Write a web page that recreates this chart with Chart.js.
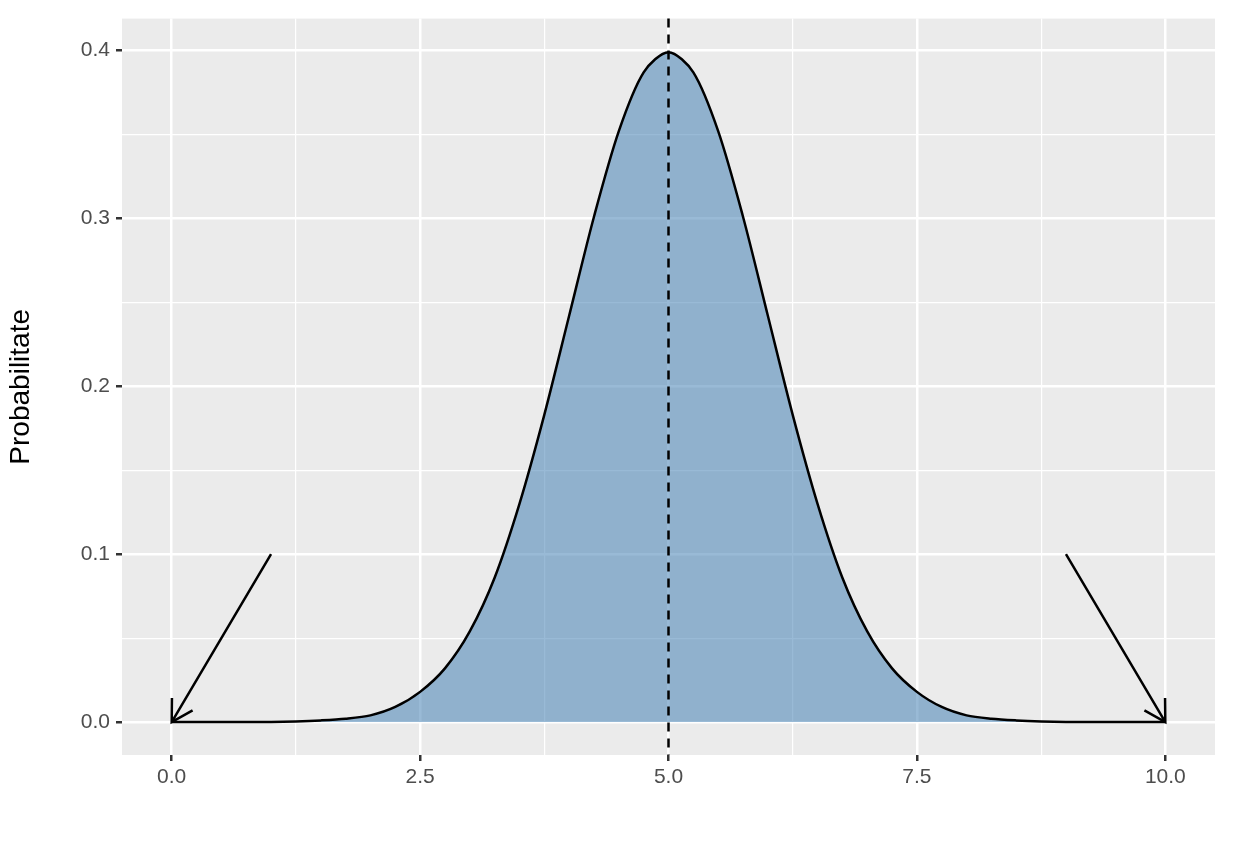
<!DOCTYPE html>
<html>
<head>
<meta charset="utf-8">
<script src="https://cdn.jsdelivr.net/npm/chart.js@4"></script>
<style>
  body { margin: 0; background: #fff; }
  #wrap { width: 1234px; height: 864px; }
</style>
</head>
<body>
<div id="wrap"><canvas id="c" width="1234" height="864"></canvas></div>
<script>
// x positions and density values
const xs = [0, 0.25, 0.5, 0.75, 1, 1.25, 1.5, 1.75, 2, 2.25, 2.5, 2.75, 3, 3.25, 3.5, 3.75, 4, 4.25, 4.5, 4.75,
  5, 5.25, 5.5, 5.75, 6, 6.25, 6.5, 6.75, 7, 7.25, 7.5, 7.75, 8, 8.25, 8.5, 8.75, 9, 9.25, 9.5, 9.75, 10];
const density = [0, 0, 0, 0, 0.0001, 0.0004, 0.001, 0.002, 0.004, 0.009, 0.018, 0.032, 0.054, 0.086, 0.130, 0.183, 0.242, 0.301, 0.352, 0.387,
  0.399, 0.387, 0.352, 0.301, 0.242, 0.183, 0.130, 0.086, 0.054, 0.032, 0.018, 0.009, 0.004, 0.002, 0.001, 0.0004, 0.0001, 0, 0, 0, 0];
const xLabels = [0, 2.5, 5, 7.5, 10];
const yLabels = [0, 0.1, 0.2, 0.3, 0.4];
const meanLine = 5;
// arrows: [fromX, fromY, toX, toY]
const arrows = [[1, 0.1, 0, 0], [9, 0.1, 10, 0]];

const isMajor = (v, list) => list.some(l => Math.abs(l - v) < 1e-6);

const panelPlugin = {
  id: 'panel',
  beforeDraw(chart) {
    const { ctx, chartArea: a } = chart;
    ctx.save();
    ctx.fillStyle = '#EBEBEB';
    ctx.fillRect(a.left, a.top, a.right - a.left, a.bottom - a.top);
    ctx.restore();
  },
  afterDatasetsDraw(chart) {
    const { ctx, chartArea: a, scales: { x, y } } = chart;
    ctx.save();
    ctx.strokeStyle = '#000';
    ctx.lineWidth = 2.5;
    ctx.setLineDash([9, 7]);
    const mx = x.getPixelForValue(meanLine);
    ctx.beginPath();
    ctx.moveTo(mx, a.top);
    ctx.lineTo(mx, a.bottom);
    ctx.stroke();
    ctx.setLineDash([]);
    arrows.forEach(([x0, y0, x1, y1]) => {
      const px0 = x.getPixelForValue(x0), py0 = y.getPixelForValue(y0);
      const px1 = x.getPixelForValue(x1), py1 = y.getPixelForValue(y1);
      const ang = Math.atan2(py1 - py0, px1 - px0);
      const h = 24;
      ctx.beginPath();
      ctx.moveTo(px0, py0);
      ctx.lineTo(px1, py1);
      ctx.moveTo(px1 - h * Math.cos(ang - Math.PI / 6), py1 - h * Math.sin(ang - Math.PI / 6));
      ctx.lineTo(px1, py1);
      ctx.lineTo(px1 - h * Math.cos(ang + Math.PI / 6), py1 - h * Math.sin(ang + Math.PI / 6));
      ctx.stroke();
    });
    ctx.restore();
  }
};

new Chart(document.getElementById('c').getContext('2d'), {
  type: 'line',
  data: {
    datasets: [{
      data: xs.map((v, i) => ({ x: v, y: density[i] })),
      borderColor: '#000',
      borderWidth: 2.5,
      backgroundColor: 'rgba(70,130,180,0.55)',
      fill: 'origin',
      pointRadius: 0,
      tension: 0.3
    }]
  },
  options: {
    responsive: false,
    animation: false,
    layout: { padding: { top: 18, right: 19, left: 0, bottom: 0 } },
    plugins: { legend: { display: false }, tooltip: { enabled: false } },
    scales: {
      x: {
        type: 'linear', min: -0.5, max: 10.5,
        afterBuildTicks(s) { s.ticks = [-1.25, 0, 1.25, 2.5, 3.75, 5, 6.25, 7.5, 8.75, 10].filter(v => v >= -0.5).map(v => ({ value: v })); },
        afterFit(s) { s.height = 109; },
        border: { display: false },
        grid: {
          color: '#fff',
          lineWidth: c => isMajor(c.tick.value, xLabels) ? 2.5 : 1.2,
          tickLength: 6,
          tickColor: c => isMajor(c.tick.value, xLabels) ? '#333' : 'rgba(0,0,0,0)'
        },
        ticks: {
          autoSkip: false, maxRotation: 0, padding: 4,
          color: '#4D4D4D', font: { family: 'Liberation Sans', size: 21 },
          callback: v => isMajor(v, xLabels) ? v.toFixed(1) : ''
        }
      },
      y: {
        min: -0.0196, max: 0.419,
        afterBuildTicks(s) { s.ticks = [0, 0.05, 0.1, 0.15, 0.2, 0.25, 0.3, 0.35, 0.4].map(v => ({ value: v })); },
        afterFit(s) { s.width = 122; },
        border: { display: false },
        grid: {
          color: '#fff',
          lineWidth: c => isMajor(c.tick.value, yLabels) ? 2.5 : 1.2,
          tickLength: 6,
          tickColor: c => isMajor(c.tick.value, yLabels) ? '#333' : 'rgba(0,0,0,0)'
        },
        ticks: {
          autoSkip: false, padding: 6,
          color: '#4D4D4D', font: { family: 'Liberation Sans', size: 21 },
          callback: v => isMajor(v, yLabels) ? v.toFixed(1) : ''
        },
        title: {
          display: true, text: 'Probabilitate', color: '#000',
          font: { family: 'Liberation Sans', size: 28 }, padding: { bottom: 8 }
        }
      }
    }
  },
  plugins: [panelPlugin]
});
</script>
</body>
</html>
